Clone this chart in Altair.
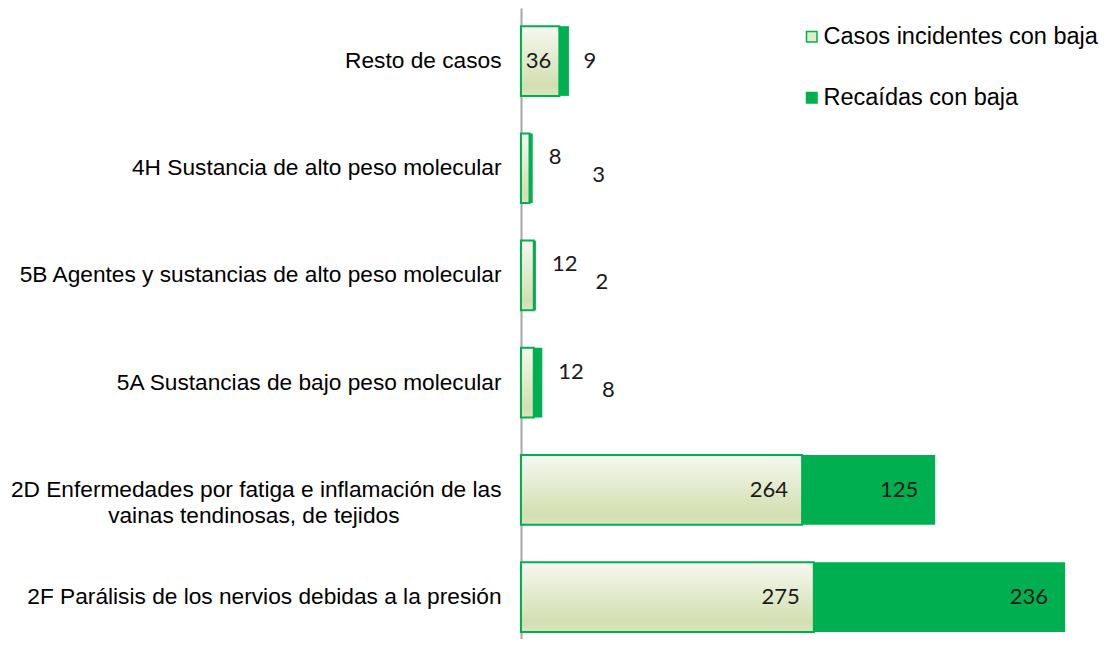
import altair as alt
import pandas as pd

PAD = "\u2800" * 6
categorias = [
    "Resto de casos",
    "4H Sustancia de alto peso molecular",
    "5B Agentes y sustancias de alto peso molecular",
    "5A Sustancias de bajo peso molecular",
    "2D Enfermedades por fatiga e inflamación de las|vainas tendinosas, de tejidos" + PAD,
    "2F Parálisis de los nervios debidas a la presión",
]
incidentes = [36, 8, 12, 12, 264, 275]
recaidas = [9, 3, 2, 8, 125, 236]
series = ["Casos incidentes con baja", "Recaídas con baja"]

df = pd.DataFrame({"cat": categorias, "inc": incidentes, "rec": recaidas})
df["total"] = df["inc"] + df["rec"]

GREEN = "#00b050"
xscale = alt.Scale(domain=[0, 540], nice=False, zero=True)

y = alt.Y(
    "cat:N",
    sort=categorias,
    scale=alt.Scale(paddingInner=0.35, paddingOuter=0.118, align=0.72),
    axis=alt.Axis(
        title=None,
        labelExpr="split(datum.label, '|')",
        ticks=False,
        domainColor="#a6a6a6",
        domainWidth=2,
        labelFont="Liberation Sans",
        labelFontSize=22.7,
        labelColor="#000000",
        labelPadding=20,
        labelLimit=0,
        labelLineHeight=26,
        grid=False,
    ),
)

grad = alt.Gradient(
    gradient="linear",
    stops=[
        alt.GradientStop(color="#f6f8f0", offset=0),
        alt.GradientStop(color="#d3dfb1", offset=0.85),
        alt.GradientStop(color="#dae4bf", offset=1),
    ],
    x1=0, x2=0, y1=0, y2=1,
)

base = alt.Chart(df)

rec_bar = base.mark_bar(fill=GREEN).encode(
    x=alt.X("inc:Q", scale=xscale, axis=None, stack=None),
    x2="total:Q",
    y=y,
)
inc_bar = base.mark_bar(fill=grad, stroke=GREEN, strokeWidth=2).encode(
    x=alt.X("inc:Q", scale=xscale, axis=None, stack=None),
    y=y,
)

tstyle = dict(font="Lato", fontSize=22, color="#1a1a1a", baseline="middle")

t_inc_big = base.transform_filter("datum.inc >= 100").mark_text(
    align="right", dx=-14, **tstyle
).encode(x=alt.X("inc:Q", scale=xscale), y=y, text="inc:Q")
t_inc_mid = base.transform_filter("datum.inc >= 30 && datum.inc < 100").mark_text(
    align="right", dx=-8, **tstyle
).encode(x=alt.X("inc:Q", scale=xscale), y=y, text="inc:Q")
t_inc_small = base.transform_filter("datum.inc < 30").mark_text(
    align="left", dx=16, dy=-11, **tstyle
).encode(x=alt.X("total:Q", scale=xscale), y=y, text="inc:Q")

t_rec_big = base.transform_filter("datum.rec >= 100").mark_text(
    align="right", dx=-17, **tstyle
).encode(x=alt.X("total:Q", scale=xscale), y=y, text="rec:Q")
t_rec_mid = base.transform_filter("datum.rec < 100 && datum.inc >= 30").mark_text(
    align="center", dx=21, **tstyle
).encode(x=alt.X("total:Q", scale=xscale), y=y, text="rec:Q")
t_rec_small = base.transform_filter("datum.inc < 30").mark_text(
    align="center", dx=66, dy=7, **tstyle
).encode(x=alt.X("total:Q", scale=xscale), y=y, text="rec:Q")

legend_df = pd.DataFrame({"serie": series})
legend_layer = alt.Chart(legend_df).mark_square(opacity=0).encode(
    x=alt.value(0),
    y=alt.value(0),
    color=alt.Color(
        "serie:N",
        scale=alt.Scale(domain=series, range=["#e3eacb", GREEN]),
        legend=alt.Legend(
            orient="none",
            legendX=279,
            legendY=17,
            title=None,
            symbolType="square",
            symbolSize=110,
            symbolStrokeColor=GREEN,
            symbolStrokeWidth=1.5,
            symbolOpacity=1,
            labelFont="Liberation Sans",
            labelFontSize=23.5,
            labelColor="#000000",
            labelOffset=0,
            rowPadding=36,
            padding=0,
            labelLimit=0,
        ),
    ),
)

chart = alt.layer(
    rec_bar, inc_bar,
    t_inc_big, t_inc_mid, t_inc_small,
    t_rec_big, t_rec_mid, t_rec_small,
    legend_layer,
).properties(
    width=575,
    height=631,
    autosize=alt.AutoSizeParams(type="none"),
    padding={"left": 513, "top": 0, "right": 5, "bottom": 0},
).configure_view(stroke=None)

chart.save("out.html", embed_options={"renderer": "svg", "actions": False})
